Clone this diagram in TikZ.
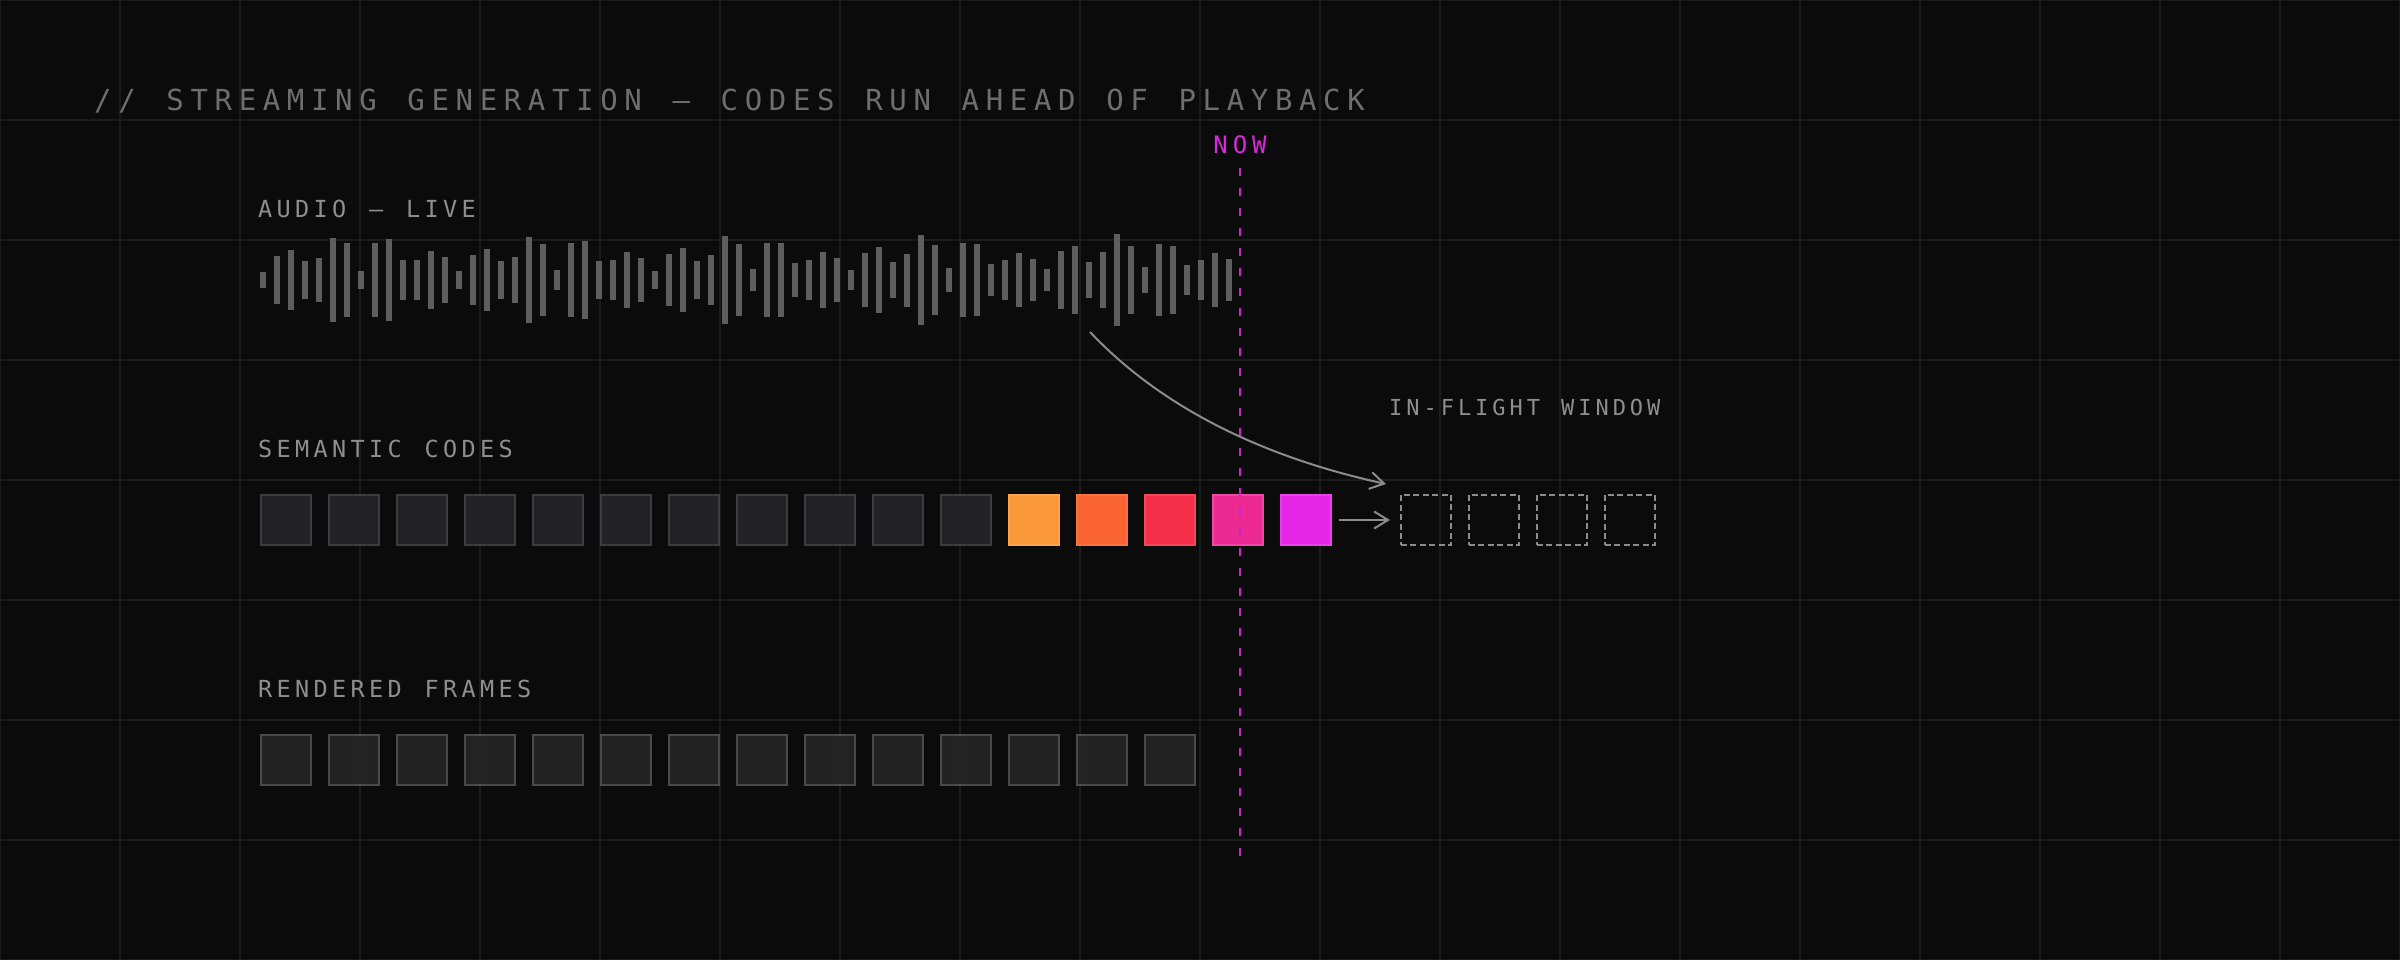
\documentclass[tikz,border=0pt]{standalone}
\usepackage{fontspec}
\setmonofont{DejaVu Sans Mono}
\usetikzlibrary{arrows.meta}
\definecolor{bg}{HTML}{0B0B0B}
\definecolor{gridc}{HTML}{1B1B1B}
\definecolor{titlec}{HTML}{6E6E6E}
\definecolor{labelc}{HTML}{8E8E8E}
\definecolor{barc}{HTML}{5E5E5E}
\definecolor{arrowc}{HTML}{8C8C8C}
\definecolor{nowc}{HTML}{CC22CC}
\definecolor{nowtext}{HTML}{D92AD9}
\definecolor{codefill}{HTML}{232327}
\definecolor{codedraw}{HTML}{3C3C41}
\definecolor{framefill}{HTML}{282828}
\definecolor{framedraw}{HTML}{4A4A4A}
\definecolor{hotA}{HTML}{FB993A}
\definecolor{hotAb}{HTML}{FDA44A}
\definecolor{hotB}{HTML}{FA6432}
\definecolor{hotBb}{HTML}{FB7242}
\definecolor{hotC}{HTML}{F5304B}
\definecolor{hotCb}{HTML}{F7465C}
\definecolor{hotD}{HTML}{EC2A94}
\definecolor{hotDb}{HTML}{F046A6}
\definecolor{hotE}{HTML}{E626E6}
\definecolor{hotEb}{HTML}{EB42EB}
\ExplSyntaxOn
\NewDocumentCommand\spacedtext{mm}{\str_map_inline:nn{#2}{\makebox[#1][l]{##1}}}
\ExplSyntaxOff
\begin{document}
\begin{tikzpicture}[x=1pt,y=-1pt,
  gridline/.style={draw=gridc,line width=1.5pt},
  titletext/.style={anchor=base west,inner sep=0pt,text=titlec,font=\ttfamily\fontsize{29}{34}\selectfont},
  labeltext/.style={anchor=base west,inner sep=0pt,text=labelc,font=\ttfamily\fontsize{23.5}{28}\selectfont},
  smalllabel/.style={anchor=base west,inner sep=0pt,text=labelc,font=\ttfamily\fontsize{22}{26}\selectfont},
  nowlabel/.style={anchor=base,inner sep=0pt,text=nowtext,font=\ttfamily\fontsize{24}{28}\selectfont},
  bar/.style={fill=barc},
  sq/.style={rectangle,minimum size=50pt,inner sep=0pt,line width=2pt},
  codebox/.style={sq,fill=codefill,draw=codedraw},
  framebox/.style={sq,fill=framefill,fill opacity=0.85,draw=framedraw},
  hotbox/.style={sq},
  winbox/.style={sq,draw=arrowc,dash pattern=on 6pt off 3.4pt},
  arr/.style={draw=arrowc,line width=2pt,-{Straight Barb[length=14pt,width=17pt]}},
  nowline/.style={draw=nowc,line width=2.2pt,dash pattern=on 8pt off 12pt}
]
\fill[bg] (0,0) rectangle (2400,960);
\useasboundingbox (0,0) rectangle (2400,960);
% grid
\foreach \gx in {0,120,...,2400} \draw[gridline] (\gx,0) -- (\gx,960);
\foreach \gy in {0,120,...,960} \draw[gridline] (0,\gy) -- (2400,\gy);
% texts
\node[titletext] (title) at (94,111) {\spacedtext{24.1pt}{// STREAMING GENERATION — CODES RUN AHEAD OF PLAYBACK}};
\node[labeltext] (audio) at (258,217) {\spacedtext{18.5pt}{AUDIO — LIVE}};
\node[labeltext] (semantic) at (258,457) {\spacedtext{18.5pt}{SEMANTIC CODES}};
\node[labeltext] (rendered) at (258,697) {\spacedtext{18.5pt}{RENDERED FRAMES}};
\node[smalllabel] (inflight) at (1389,415) {\spacedtext{17.2pt}{IN-FLIGHT WINDOW}};
\node[nowlabel] (now) at (1242.5,154) {\spacedtext{19.5pt}{NOW}};
% waveform
\foreach \h [count=\i from 0] in {16,48,60,38,44,84,74,18,74,82,40,40,58,46,18,50,62,38,46,86,72,20,74,78,38,40,56,44,18,52,64,38,50,88,72,22,74,74,34,40,56,44,20,54,66,36,53,90,70,24,74,72,32,40,54,42,22,58,68,36,56,92,68,26,72,68,30,40,54,42}
  \fill[bar] ({260+14*\i},{280-\h/2}) rectangle ++(6,\h);
% semantic codes
\foreach \k in {0,...,10} \node[codebox] (c\k) at ({286+68*\k},520) {};
\node[hotbox,fill=hotA,draw=hotAb] (c11) at (1034,520) {};
\node[hotbox,fill=hotB,draw=hotBb] (c12) at (1102,520) {};
\node[hotbox,fill=hotC,draw=hotCb] (c13) at (1170,520) {};
\node[hotbox,fill=hotD,draw=hotDb] (c14) at (1238,520) {};
\node[hotbox,fill=hotE,draw=hotEb] (c15) at (1306,520) {};
\foreach \k in {0,...,3} \node[winbox] (w\k) at ({1426+68*\k},520) {};
% rendered frames
\foreach \k in {0,...,13} \node[framebox] (f\k) at ({286+68*\k},760) {};
% now line
\coordinate (nowtop) at (1240,168);
\coordinate (nowbot) at (1240,856);
\draw[nowline] (nowtop) -- (nowbot);
% arrows
\draw[arr,shorten <=7pt,shorten >=10pt] (c15.east) -- (w0.west);
\coordinate (curvestart) at (1090,332);
\coordinate (curveend) at (1386,484);
\draw[arr] (curvestart) .. controls (1159,405) and (1258,456) .. (curveend);
\end{tikzpicture}
\end{document}
